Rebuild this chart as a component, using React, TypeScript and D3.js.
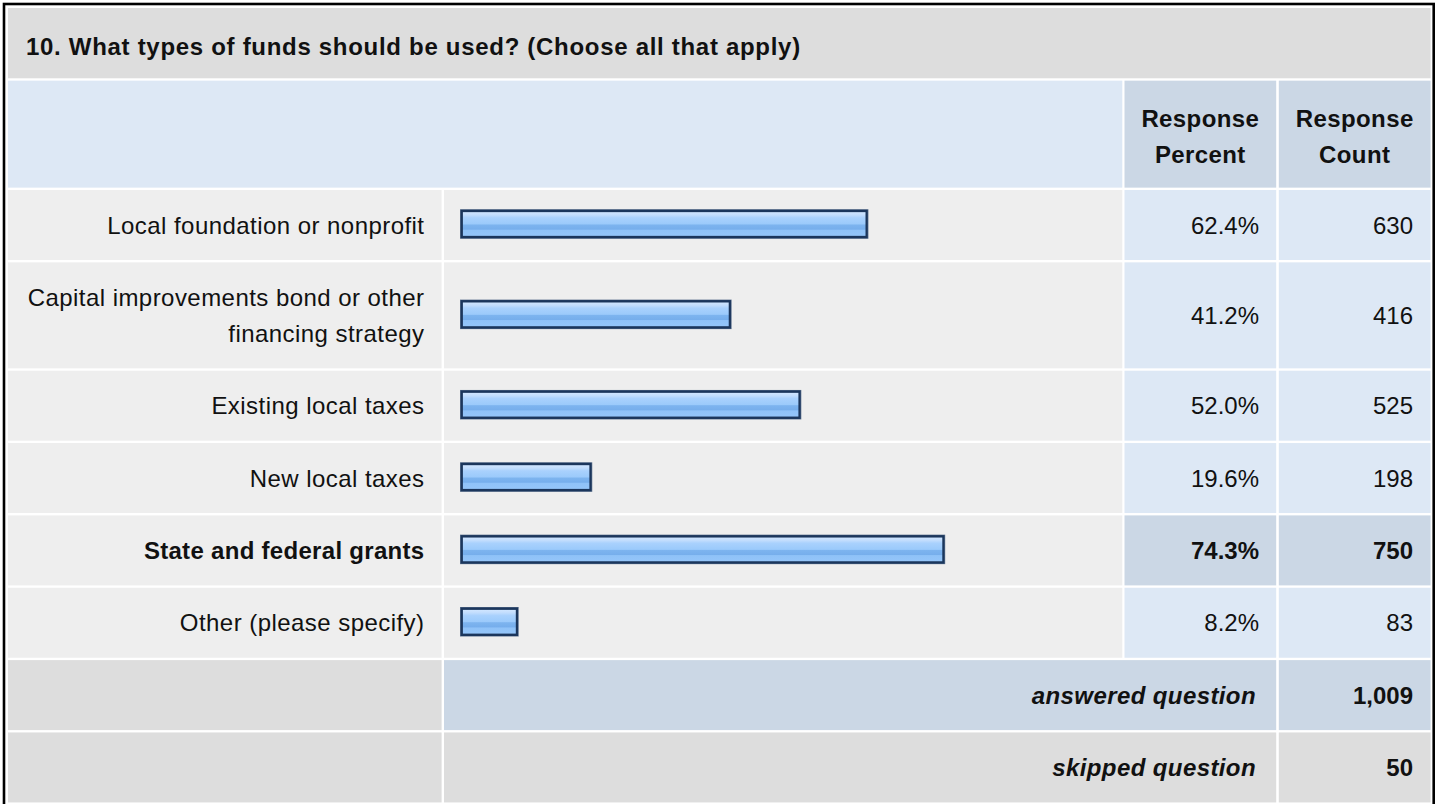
import React from 'react';
import * as d3 from 'd3';

// ---- data ----
const title = "10. What types of funds should be used? (Choose all that apply)";
const headerPercent = ["Response", "Percent"];
const headerCount = ["Response", "Count"];
const categoryLines: string[][] = [
  ["Local foundation or nonprofit"],
  ["Capital improvements bond or other", "financing strategy"],
  ["Existing local taxes"],
  ["New local taxes"],
  ["State and federal grants"],
  ["Other (please specify)"],
];
const percents = [62.4, 41.2, 52.0, 19.6, 74.3, 8.2];
const counts = [630, 416, 525, 198, 750, 83];
const answeredLabel = "answered question";
const skippedLabel = "skipped question";
const answeredCount = 1009;
const skippedCount = 50;

// ---- layout ----
const W = 1440, H = 804;
const FONT = '"Liberation Sans", Arial, Helvetica, sans-serif';
const FS = 24;
const BASE = 8.6; // baseline offset from vertical centre
const LINE = 36;
const GAP = 2.35;
const COL = {
  labelL: 8, labelR: 441.6,
  barL: 444, barR: 1122.3,
  pctL: 1124.5, pctR: 1276.2,
  cntL: 1278.8, cntR: 1430.6,
};
const TITLE_TOP = 8, TITLE_H = 70.3;
const HEAD_H = 107;
const ROW_H = 70;
const BAR_H = 29.5;
const BAR_X = 460;
const BORDER = 2.9;

const C = {
  title: '#dddddd',
  headBlue: '#dde8f5',
  headDark: '#cbd7e5',
  label: '#eeeeee',
  cell: '#dde8f5',
  cellHi: '#cbd7e5',
  grey: '#dddddd',
  text: '#111111',
  barBorder: '#1b365c',
};

export default function App() {
  const headTop = TITLE_TOP + TITLE_H + GAP;
  let y = headTop + HEAD_H + GAP;
  const rows = categoryLines.map((lines, i) => {
    const h = ROW_H + (lines.length - 1) * LINE;
    const r = { top: y, h, lines, pct: percents[i], cnt: counts[i], i };
    y += h + GAP;
    return r;
  });
  const ansTop = y;
  const skipTop = ansTop + ROW_H + GAP;

  const maxPct = d3.max(percents) as number;
  const hiIndex = percents.indexOf(maxPct);
  const x = d3.scaleLinear().domain([0, 100]).range([0, 645.2]);
  const fmtPct = (v: number) => d3.format('.1f')(v) + '%';
  const fmtCnt = d3.format(',');

  const rect = (x0: number, x1: number, top: number, h: number, fill: string, key: string) => (
    <rect key={key} x={x0} y={top} width={x1 - x0} height={h} fill={fill} />
  );

  return (
    <svg width={W} height={H} viewBox={`0 0 ${W} ${H}`}
      style={{ position: 'absolute', left: 0, top: 0, display: 'block', background: '#fff' }}
      fontFamily={FONT} fontSize={FS}>
      <defs>
        <linearGradient id="barGrad" x1="0" y1="0" x2="0" y2="1">
          <stop offset="0%" stopColor="#cfe5ff" />
          <stop offset="12%" stopColor="#c2ddfd" />
          <stop offset="24%" stopColor="#a9d1fd" />
          <stop offset="50%" stopColor="#9bcafb" />
          <stop offset="54%" stopColor="#7db4ef" />
          <stop offset="72%" stopColor="#76aeec" />
          <stop offset="76%" stopColor="#8fc2f8" />
          <stop offset="100%" stopColor="#94c5f9" />
        </linearGradient>
      </defs>

      {/* title */}
      {rect(COL.labelL, COL.cntR, TITLE_TOP, TITLE_H, C.title, 'title')}
      <text x={26} y={55} fontWeight="bold" fill={C.text} letterSpacing={0.7}>{title}</text>

      {/* header */}
      {rect(COL.labelL, COL.barR, headTop, HEAD_H, C.headBlue, 'hb')}
      {rect(COL.pctL, COL.pctR, headTop, HEAD_H, C.headDark, 'hp')}
      {rect(COL.cntL, COL.cntR, headTop, HEAD_H, C.headDark, 'hc')}
      {[headerPercent, headerCount].map((lines, j) => {
        const cx = j === 0 ? (COL.pctL + COL.pctR) / 2 : (COL.cntL + COL.cntR) / 2;
        const mid = headTop + HEAD_H / 2 + 2;
        return lines.map((t, k) => (
          <text key={`h${j}${k}`} x={cx} y={mid + (k - 0.5) * LINE + BASE} textAnchor="middle"
            fontWeight="bold" fill={C.text} letterSpacing={0.4}>{t}</text>
        ));
      })}

      {/* data rows */}
      {rows.map((r) => {
        const mid = r.top + r.h / 2;
        const hi = r.i === hiIndex;
        const bw = x(r.pct);
        const by = mid - 1 - BAR_H / 2;
        return (
          <g key={`r${r.i}`}>
            {rect(COL.labelL, COL.labelR, r.top, r.h, C.label, 'l')}
            {rect(COL.barL, COL.barR, r.top, r.h, C.label, 'b')}
            {rect(COL.pctL, COL.pctR, r.top, r.h, hi ? C.cellHi : C.cell, 'p')}
            {rect(COL.cntL, COL.cntR, r.top, r.h, hi ? C.cellHi : C.cell, 'c')}
            {r.lines.map((t, k) => (
              <text key={k} x={424.5} y={mid + (k - (r.lines.length - 1) / 2) * LINE + BASE}
                textAnchor="end" fill={C.text} fontWeight={hi ? 'bold' : 'normal'}
                letterSpacing={hi ? 0.3 : 0.45}>{t}</text>
            ))}
            <rect x={BAR_X} y={by} width={bw + 2 * BORDER} height={BAR_H} fill="#5a6f8c" />
            <rect x={BAR_X + 0.7} y={by + 0.5} width={bw + 2 * BORDER - 1.4} height={BAR_H - 1} fill={C.barBorder} />
            <rect x={BAR_X + BORDER} y={by + BORDER} width={bw} height={BAR_H - 2 * BORDER} fill="url(#barGrad)" />
            <text x={1259} y={mid + BASE} textAnchor="end" fill={C.text} fontWeight={hi ? 'bold' : 'normal'}>{fmtPct(r.pct)}</text>
            <text x={1413} y={mid + BASE} textAnchor="end" fill={C.text} fontWeight={hi ? 'bold' : 'normal'}>{fmtCnt(r.cnt)}</text>
          </g>
        );
      })}

      {/* answered */}
      {rect(COL.labelL, COL.labelR, ansTop, ROW_H, C.grey, 'al')}
      {rect(COL.barL, COL.pctR, ansTop, ROW_H, C.headDark, 'am')}
      {rect(COL.cntL, COL.cntR, ansTop, ROW_H, C.headDark, 'ac')}
      <text x={1256} y={ansTop + ROW_H / 2 + BASE} textAnchor="end" fontWeight="bold" fontStyle="italic" fill={C.text} letterSpacing={0.4}>{answeredLabel}</text>
      <text x={1413} y={ansTop + ROW_H / 2 + BASE} textAnchor="end" fontWeight="bold" fill={C.text}>{fmtCnt(answeredCount)}</text>

      {/* skipped */}
      {rect(COL.labelL, COL.labelR, skipTop, ROW_H, C.grey, 'sl')}
      {rect(COL.barL, COL.pctR, skipTop, ROW_H, C.grey, 'sm')}
      {rect(COL.cntL, COL.cntR, skipTop, ROW_H, C.grey, 'sc')}
      <text x={1256} y={skipTop + ROW_H / 2 + BASE} textAnchor="end" fontWeight="bold" fontStyle="italic" fill={C.text} letterSpacing={0.4}>{skippedLabel}</text>
      <text x={1413} y={skipTop + ROW_H / 2 + BASE} textAnchor="end" fontWeight="bold" fill={C.text}>{fmtCnt(skippedCount)}</text>

      {/* outer border */}
      <rect x={4} y={4} width={1429.7} height={H + 20} fill="none" stroke="#000" strokeWidth={2.6} />
    </svg>
  );
}
